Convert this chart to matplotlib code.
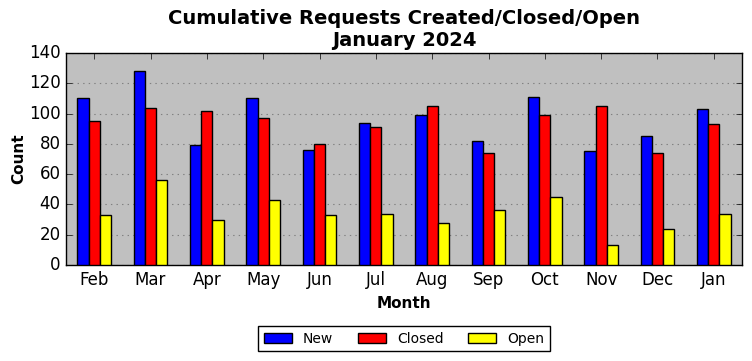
import matplotlib
matplotlib.use('Agg')
import matplotlib.pyplot as plt
import numpy as np

months = ['Feb', 'Mar', 'Apr', 'May', 'Jun', 'Jul', 'Aug', 'Sep', 'Oct', 'Nov', 'Dec', 'Jan']
new = [110, 128, 79, 110, 76, 94, 99, 82, 111, 75, 85, 103]
closed = [95, 104, 102, 97, 80, 91, 105, 74, 99, 105, 74, 93]
open_ = [33, 56, 30, 43, 33, 34, 28, 36, 45, 13, 24, 34]

plt.style.use('classic')

fig = plt.figure(figsize=(7.52, 3.61), dpi=100)
ax = fig.add_axes([66 / 752, 1 - 265 / 361, 676 / 752, 212 / 361])
ax.set_facecolor('#c0c0c0')

x = np.arange(len(months))
w = 0.2
ax.bar(x - w, new, w, color='blue', edgecolor='black', label='New', zorder=3)
ax.bar(x, closed, w, color='red', edgecolor='black', label='Closed', zorder=3)
ax.bar(x + w, open_, w, color='yellow', edgecolor='black', label='Open', zorder=3)

ax.set_xticks(x)
ax.set_xticklabels(months)
ax.set_xlim(-0.5, len(months) - 0.5)
ax.set_ylim(0, 140)
ax.set_yticks(np.arange(0, 141, 20))
ax.tick_params(labelsize=12)
ax.yaxis.grid(True, color='gray', linestyle=':', linewidth=0.8, zorder=0)
ax.xaxis.grid(False)
ax.set_axisbelow(True)

ax.set_xlabel('Month', fontsize=11, fontweight='bold')
ax.set_ylabel('Count', fontsize=11, fontweight='bold', labelpad=2)
ax.set_title('Cumulative Requests Created/Closed/Open\nJanuary 2024',
             fontsize=14, fontweight='bold')

ax.legend(loc='upper center', bbox_to_anchor=(0.5, -0.255), ncol=3,
          fontsize=10, frameon=True, fancybox=False, handlelength=2.0,
          columnspacing=1.8, borderpad=0.4)

fig.savefig('out.png', dpi=100)
